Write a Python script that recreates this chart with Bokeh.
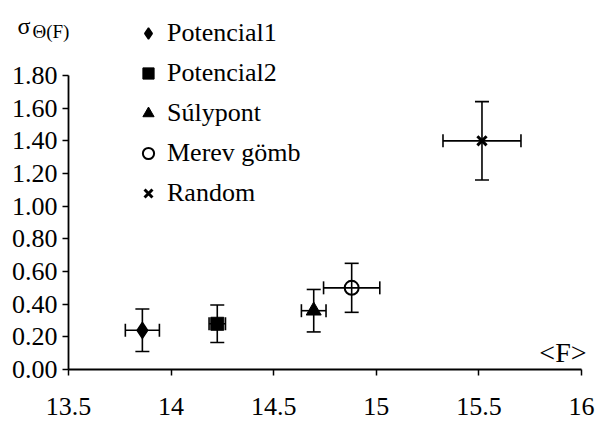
from bokeh.plotting import figure
from bokeh.models import (ColumnDataSource, Whisker, TeeHead, Legend, LegendItem,
                          FixedTicker, NumeralTickFormatter, Label, Range1d)
from bokeh.embed import file_html
from bokeh.resources import INLINE

series = ["Potencial1", "Potencial2", "Súlypont", "Merev gömb", "Random"]
f_mean = [13.86, 14.225, 14.695, 14.88, 15.515]
f_err = [0.083, 0.04, 0.06, 0.137, 0.19]
sigma = [0.24, 0.28, 0.36, 0.50, 1.40]
sigma_err = [0.13, 0.115, 0.13, 0.15, 0.24]

x_ticks = [13.5, 14, 14.5, 15, 15.5, 16]
x_tick_labels = ["13.5", "14", "14.5", "15", "15.5", "16"]
y_ticks = [0.0, 0.2, 0.4, 0.6, 0.8, 1.0, 1.2, 1.4, 1.6, 1.8]

FONT = "'Liberation Serif', 'Times New Roman', 'Nimbus Roman', serif"

# layout geometry (pixels): axis box corners inside a full-canvas frame
W, H = 598, 423
AX_L, AX_R, AX_T, AX_B = 68, 581, 75, 369
x0, x1 = x_ticks[0], x_ticks[-1]
y0, y1 = y_ticks[0], y_ticks[-1]
xs = (x1 - x0) / (AX_R - AX_L)
ys = (y1 - y0) / (AX_B - AX_T)
xr = Range1d(x0 - AX_L * xs, x1 + (W - AX_R) * xs)
yr = Range1d(y0 - (H - AX_B) * ys, y1 + AX_T * ys)

p = figure(width=W, height=H, output_backend="svg", toolbar_location=None,
           x_range=xr, y_range=yr,
           min_border_left=0, min_border_right=0, min_border_top=0,
           min_border_bottom=0)
p.outline_line_color = None
p.xgrid.visible = False
p.ygrid.visible = False
p.background_fill_color = "white"
p.border_fill_color = "white"

src = ColumnDataSource(dict(
    x=f_mean, y=sigma,
    xlo=[a - b for a, b in zip(f_mean, f_err)], xhi=[a + b for a, b in zip(f_mean, f_err)],
    ylo=[a - b for a, b in zip(sigma, sigma_err)], yhi=[a + b for a, b in zip(sigma, sigma_err)],
))

vw = Whisker(source=src, base="x", lower="ylo", upper="yhi", dimension="height",
             line_color="black", line_width=1.6,
             upper_head=TeeHead(size=14, line_width=1.6, line_color="black"),
             lower_head=TeeHead(size=14, line_width=1.6, line_color="black"))
hw = Whisker(source=src, base="y", lower="xlo", upper="xhi", dimension="width",
             line_color="black", line_width=1.6,
             upper_head=TeeHead(size=13, line_width=1.6, line_color="black"),
             lower_head=TeeHead(size=13, line_width=1.6, line_color="black"))
p.add_layout(vw)
p.add_layout(hw)

markers = ["diamond", "square", "triangle", "circle", "x"]
sizes = [16, 13, 15, 14, 13]
fills = ["black", "black", "black", None, None]
lws = [1.5, 1, 1, 2, 3]
items = []
for i, name in enumerate(series):
    s = ColumnDataSource(dict(x=[f_mean[i]], y=[sigma[i]]))
    r = p.scatter("x", "y", source=s, marker=markers[i], size=sizes[i],
                  fill_color=fills[i], line_color="black", line_width=lws[i])
    items.append(LegendItem(label=name, renderers=[r]))

legend = Legend(items=items, location=(133, 215), orientation="vertical",
                glyph_width=30, glyph_height=28, label_height=30, label_standoff=4,
                spacing=10, padding=0, margin=0,
                border_line_color=None, background_fill_alpha=0,
                label_text_font=FONT, label_text_font_size="26px", label_text_color="black")
p.add_layout(legend, "center")

for ax in (p.xaxis, p.yaxis):
    ax.axis_line_width = 1.8
    ax.axis_line_color = "black"
    ax.major_tick_line_width = 1.5
    ax.major_tick_line_color = "black"
    ax.major_tick_in = 0
    ax.major_tick_out = 6
    ax.minor_tick_line_color = None
    ax.major_label_text_font = FONT
    ax.major_label_text_font_size = "26px"
    ax.major_label_text_color = "black"

p.xaxis.ticker = FixedTicker(ticks=x_ticks)
p.xaxis.major_label_overrides = {t: l for t, l in zip(x_ticks, x_tick_labels)}
p.xaxis.major_label_standoff = 22
p.xaxis.fixed_location = y0
p.xaxis.bounds = (x0, x1)
p.yaxis.ticker = FixedTicker(ticks=y_ticks)
p.yaxis.formatter = NumeralTickFormatter(format="0.00")
p.yaxis.major_label_standoff = 5
p.yaxis.fixed_location = x0
p.yaxis.bounds = (y0, y1)

p.add_layout(Label(x=17, y=H - 25, x_units="screen", y_units="screen", text="σ",
                   text_font=FONT, text_font_size="24px", text_baseline="alphabetic",
                   text_color="black"))
p.add_layout(Label(x=32, y=H - 31, x_units="screen", y_units="screen", text="Θ(F)",
                   text_font=FONT, text_font_size="19px", text_baseline="alphabetic",
                   text_color="black"))
p.add_layout(Label(x=586, y=H - 352, x_units="screen", y_units="screen", text="<F>",
                   text_font=FONT, text_font_size="28px", text_baseline="alphabetic",
                   text_align="right", text_color="black"))

open("out.html", "w").write(file_html(p, INLINE))
